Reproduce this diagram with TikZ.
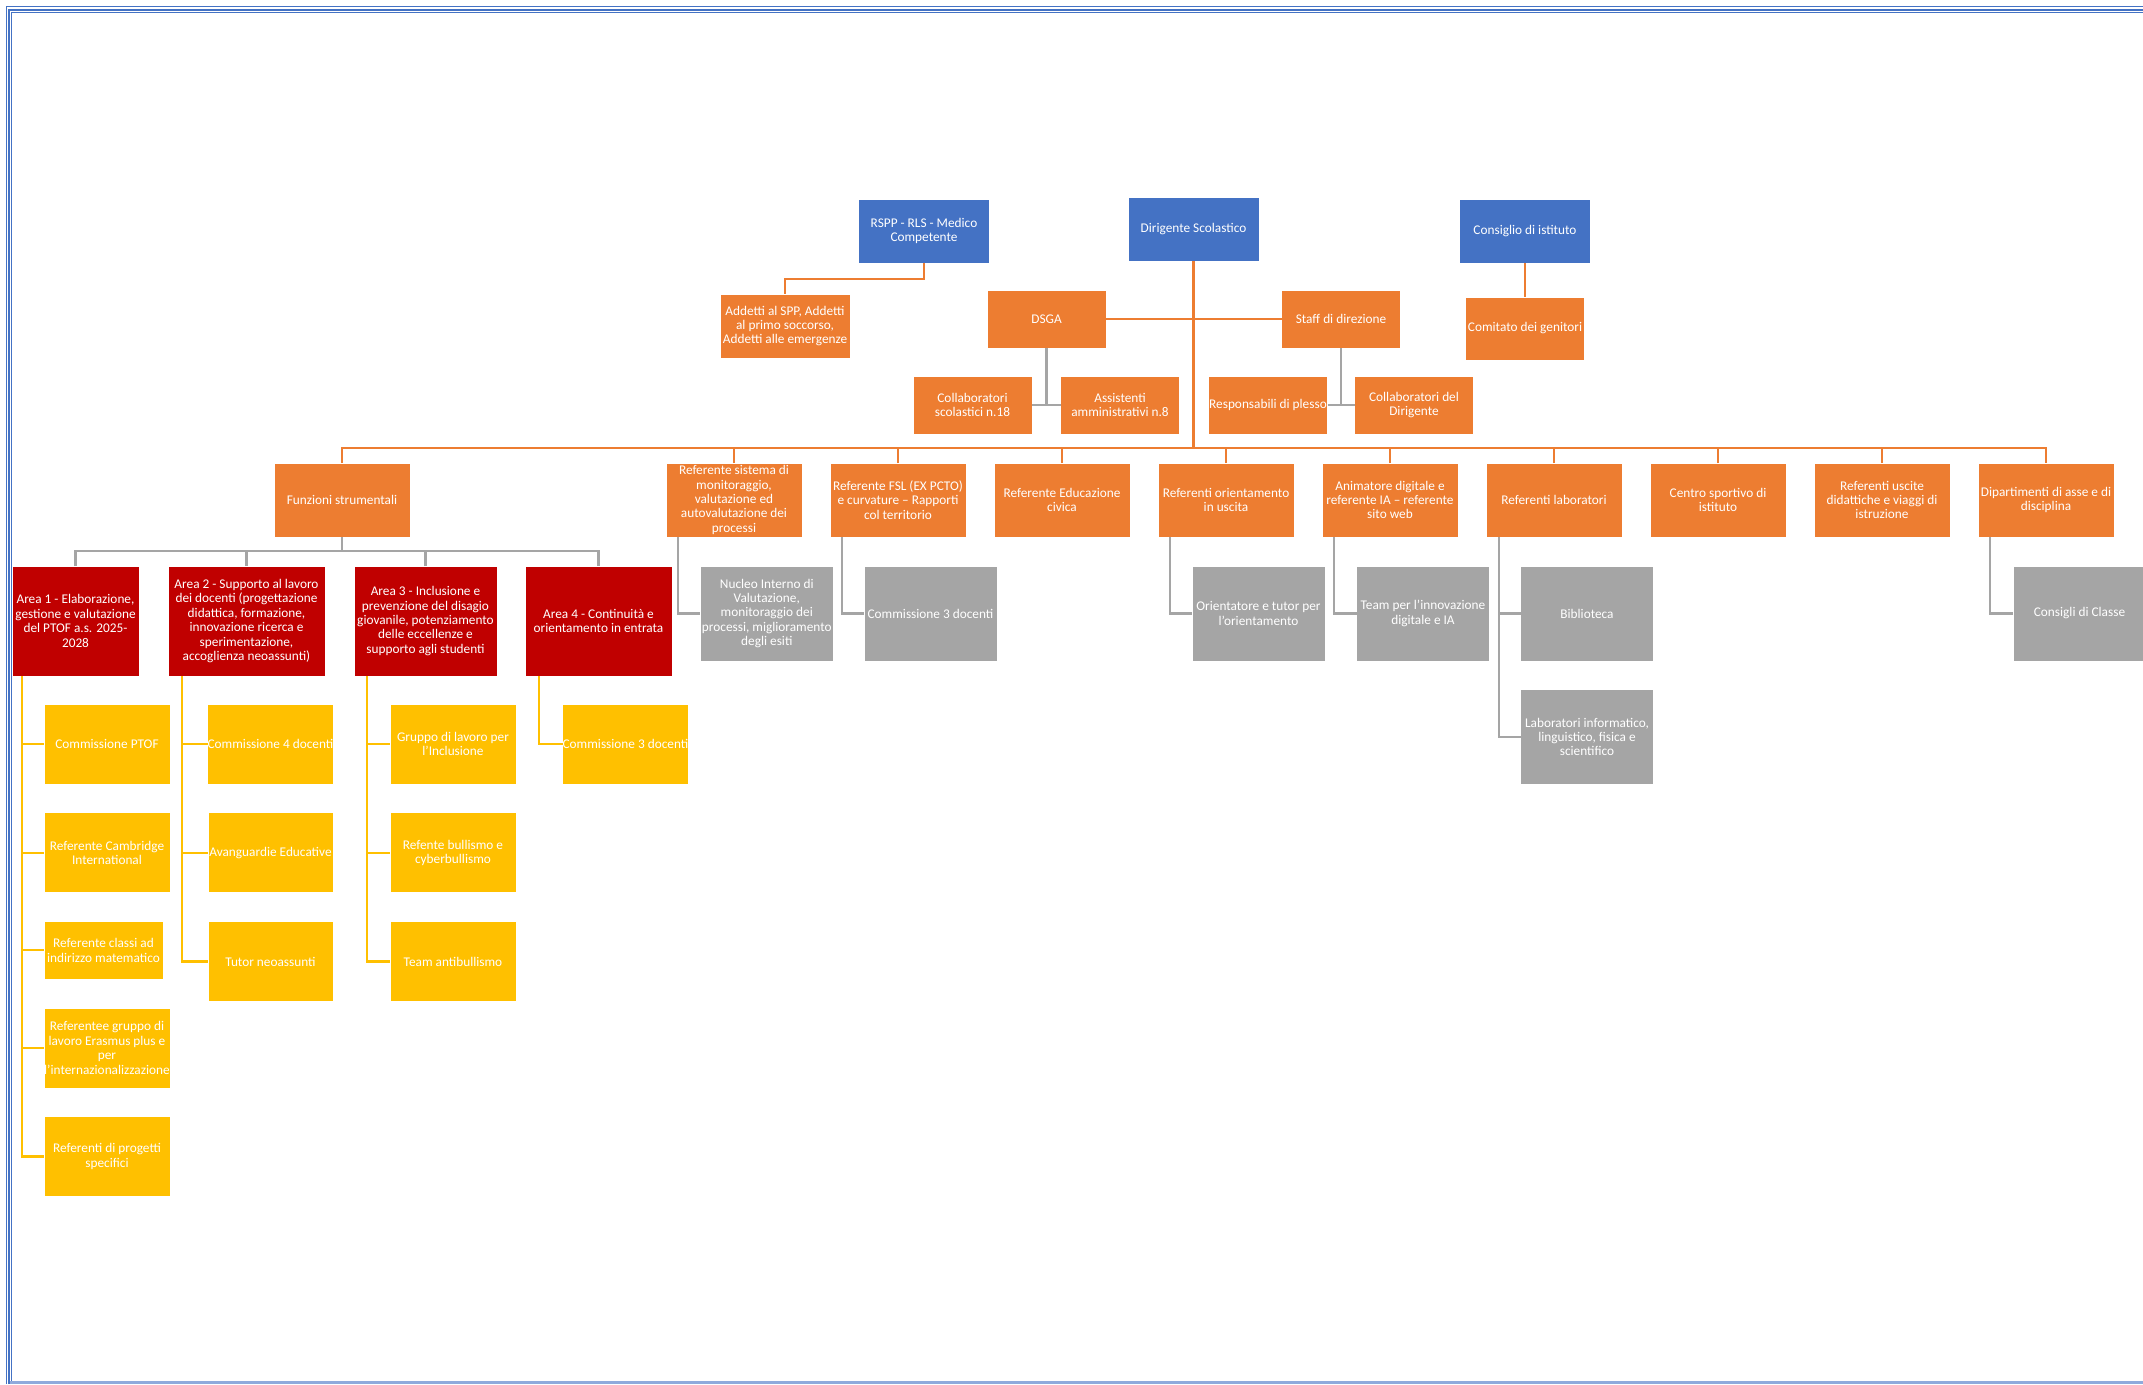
\documentclass[tikz,border=0pt]{standalone}
\usepackage{fontspec}
\setmainfont{Carlito}
\definecolor{cblue}{HTML}{4472C4}
\definecolor{corange}{HTML}{ED7D31}
\definecolor{cred}{HTML}{C00000}
\definecolor{cyellow}{HTML}{FFC000}
\definecolor{cgray}{HTML}{A5A5A5}
\definecolor{cframelt}{HTML}{8FAADC}
\newcommand\bxfont{\fontsize{13.3}{14.4}\selectfont}
\tikzset{
  bx/.style={rectangle, inner sep=0pt, outer sep=0pt, align=center, text=white, font=\bxfont, draw=white, line width=0.6pt},
  blu/.style={bx, fill=cblue, minimum width=131, minimum height=64},
  obx/.style={bx, fill=corange},
  osm/.style={obx, minimum width=119, minimum height=58},
  lvtwo/.style={obx, minimum width=136, minimum height=74},
  area/.style={bx, fill=cred, minimum height=110},
  ylw/.style={bx, fill=cyellow, minimum width=126, minimum height=80},
  gry/.style={bx, fill=cgray, minimum width=133, minimum height=95},
  oline/.style={draw=corange, line width=2.2pt},
  gline/.style={draw=cgray, line width=2.2pt},
  yline/.style={draw=cyellow, line width=2.2pt},
}
\begin{document}
\begin{tikzpicture}[x=1pt,y=-1pt]
\clip (0,0) rectangle (2143,1384);
\fill[white] (0,0) rectangle (2143,1384);
% page frame
\draw[cblue, line width=1.2pt] (6.5,1384) -- (6.5,6.8) -- (2143,6.8);
\draw[cblue, line width=2.2pt] (9.3,1384) -- (9.3,10) -- (2143,10);
\draw[cblue, line width=1pt] (11.6,1381) -- (11.6,12.8) -- (2143,12.8);
\fill[cframelt] (10,1380.8) rectangle (2143,1384);

% top level
\node[blu] (rspp) at (924,231) {RSPP - RLS - Medico\\Competente};
\node[blu] (ds) at (1193.5,229) {Dirigente Scolastico};
\node[blu] (ci) at (1525,231) {Consiglio di istituto};
\node[obx, minimum width=130, minimum height=64] (add) at (785,326) {Addetti al SPP, Addetti\\al primo soccorso,\\Addetti alle emergenze};
\node[osm] (dsga) at (1046.5,319) {DSGA};
\node[osm] (staff) at (1341,319) {Staff di direzione};
\node[osm, minimum height=63] (com) at (1525,328.5) {Comitato dei genitori};
\node[osm] (colsc) at (972.5,405) {Collaboratori\\scolastici n.18};
\node[osm] (assam) at (1120,405) {Assistenti\\amministrativi n.8};
\node[osm] (resp) at (1268,405) {Responsabili di plesso};
\node[osm] (coldir) at (1414,405) {Collaboratori del\\Dirigente};

% level two
\node[lvtwo] (fs) at (342,500) {Funzioni strumentali};
\node[lvtwo] (rs) at (734,500) {Referente sistema di\\monitoraggio,\\valutazione ed\\autovalutazione dei\\processi};
\node[lvtwo] (fsl) at (898,500) {Referente FSL (EX PCTO)\\e curvature – Rapporti\\col territorio};
\node[lvtwo] (ec) at (1062,500) {Referente Educazione\\civica};
\node[lvtwo] (ro) at (1226,500) {Referenti orientamento\\in uscita};
\node[lvtwo] (ad) at (1390,500) {Animatore digitale e\\referente IA – referente\\sito web};
\node[lvtwo] (rl) at (1554,500) {Referenti laboratori};
\node[lvtwo] (cs) at (1718,500) {Centro sportivo di\\istituto};
\node[lvtwo] (ru) at (1882,500) {Referenti uscite\\didattiche e viaggi di\\istruzione};
\node[lvtwo] (dip) at (2046,500) {Dipartimenti di asse e di\\disciplina};

% areas
\node[area, minimum width=127] (a1) at (75.5,621) {Area 1 - Elaborazione,\\gestione e valutazione\\del PTOF a.s. 2025-\\2028};
\node[area, minimum width=157] (a2) at (246.5,621) {Area 2 - Supporto al lavoro\\dei docenti (progettazione\\didattica, formazione,\\innovazione ricerca e\\sperimentazione,\\accoglienza neoassunti)};
\node[area, minimum width=143] (a3) at (425.5,621) {Area 3 - Inclusione e\\prevenzione del disagio\\giovanile, potenziamento\\delle eccellenze e\\supporto agli studenti};
\node[area, minimum width=147] (a4) at (598.5,621) {Area 4 - Continuità e\\orientamento in entrata};

% yellow boxes
\node[ylw] (y11) at (107,744) {Commissione PTOF};
\node[ylw] (y12) at (107,852.7) {Referente Cambridge\\International};
\node[ylw, minimum width=119, minimum height=58] (y13) at (103.5,950.3) {Referente classi ad\\indirizzo matematico};
\node[ylw] (y14) at (107,1048) {Referentee gruppo di\\lavoro Erasmus plus e\\per\\l’internazionalizzazione};
\node[ylw] (y15) at (107,1156.4) {Referenti di progetti\\specifici};
\node[ylw, minimum width=125] (y21) at (270.5,744) {Commissione 4 docenti};
\node[ylw, minimum width=125] (y22) at (270.5,852.7) {Avanguardie Educative};
\node[ylw, minimum width=125] (y23) at (270.5,961.5) {Tutor neoassunti};
\node[ylw] (y31) at (453,744) {Gruppo di lavoro per\\l'Inclusione};
\node[ylw] (y32) at (453,852.7) {Refente bullismo e\\cyberbullismo};
\node[ylw] (y33) at (453,961.5) {Team antibullismo};
\node[ylw, minimum width=125] (y41) at (625.5,744) {Commissione 3 docenti};

% gray boxes
\node[gry] (nuc) at (766.8,613.5) {Nucleo Interno di\\Valutazione,\\monitoraggio dei\\processi, miglioramento\\degli esiti};
\node[gry] (cfsl) at (930.5,613.5) {Commissione 3 docenti};
\node[gry] (ori) at (1258.5,613.5) {Orientatore e tutor per\\l'orientamento};
\node[gry] (team) at (1423,613.5) {Team per l'innovazione\\digitale e IA};
\node[gry] (bib) at (1587,613.5) {Biblioteca};
\node[gry] (lab) at (1587,737) {Laboratori informatico,\\linguistico, fisica e\\scientifico};
\node[gry] (cons) at (2079.5,613.5) {Consigli di Classe};

% orange connectors
\draw[oline] (rspp.south) -- ++(0,16) -| (add.north);
\draw[oline] (ci.south) -- (com.north);
\draw[oline] (dsga.east) -- (staff.west);
\draw[oline] (ds.south) -- ++(0,187);
\draw[oline] (fs.north) -- ++(0,-15) -| (dip.north);
\foreach \n in {rs,fsl,ec,ro,ad,rl,cs,ru}{\draw[oline] (\n.north) -- ++(0,-15);}

% gray connectors
\draw[gline] (dsga.south) -- (dsga.south |- colsc.east);
\draw[gline] (colsc.east) -- (assam.west);
\draw[gline] (staff.south) -- (staff.south |- resp.east);
\draw[gline] (resp.east) -- (coldir.west);
\draw[gline] (fs.south) -- ++(0,14) -| (a1.north);
\draw[gline] (fs.south) ++(0,14) -| (a2.north);
\draw[gline] (fs.south) ++(0,14) -| (a3.north);
\draw[gline] (fs.south) ++(0,14) -| (a4.north);
\draw[gline] ([xshift=12]rs.south west) |- (nuc.west);
\draw[gline] ([xshift=12]fsl.south west) |- (cfsl.west);
\draw[gline] ([xshift=12]ro.south west) |- (ori.west);
\draw[gline] ([xshift=12]ad.south west) |- (team.west);
\draw[gline] ([xshift=13]rl.south west) |- (bib.west);
\draw[gline] ([xshift=13]rl.south west) |- (lab.west);
\draw[gline] ([xshift=12]dip.south west) |- (cons.west);

% yellow connectors
\foreach \n in {y11,y12,y13,y14,y15}{\draw[yline] ([xshift=10]a1.south west) |- (\n.west);}
\foreach \n in {y21,y22,y23}{\draw[yline] ([xshift=14]a2.south west) |- (\n.west);}
\foreach \n in {y31,y32,y33}{\draw[yline] ([xshift=13]a3.south west) |- (\n.west);}
\draw[yline] ([xshift=14]a4.south west) |- (y41.west);
\end{tikzpicture}
\end{document}
